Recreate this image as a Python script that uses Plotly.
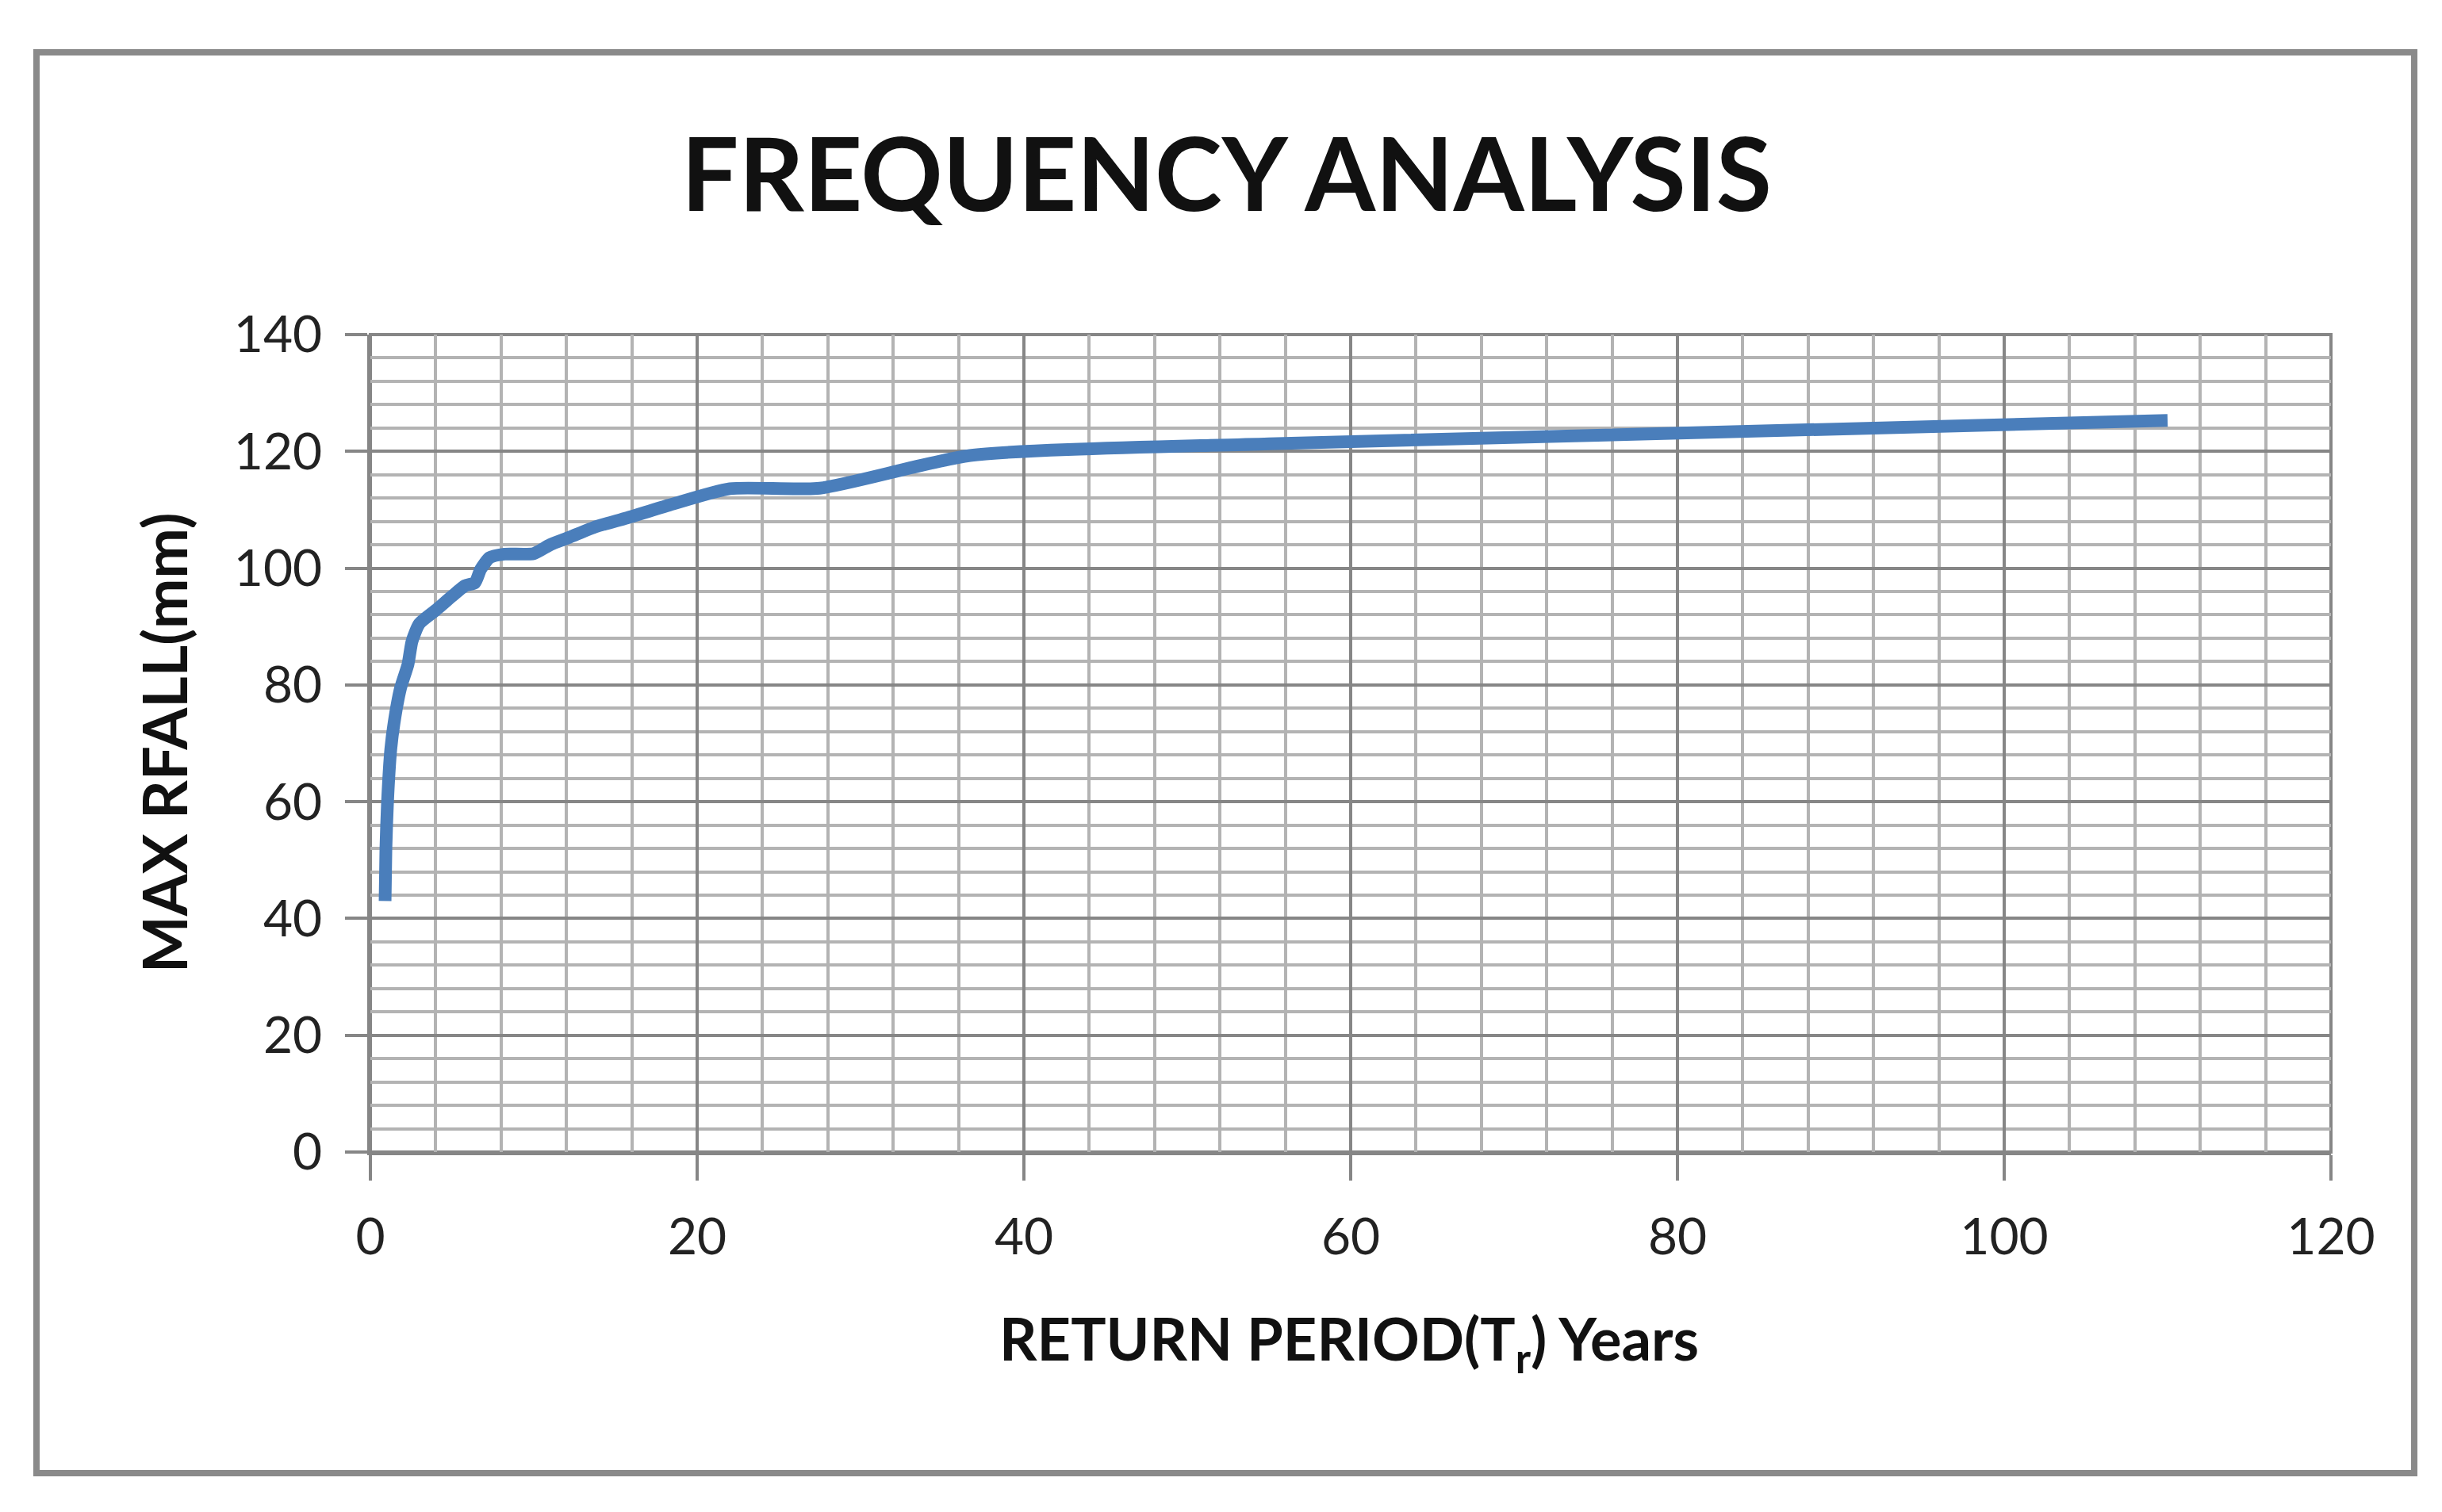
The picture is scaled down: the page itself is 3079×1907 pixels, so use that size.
import plotly.graph_objects as go

# ---- data ----
return_period_years = [0.9, 0.95, 1.05, 1.25, 1.45, 1.85, 2.3, 2.55, 3.0, 4.0, 5.0, 5.8,
                       6.4, 6.75, 7.3, 8.2, 10.0, 11.0, 12.2, 13.8, 15.7, 18.3, 22.0,
                       27.5, 36.7, 55.0, 110.0]
max_rainfall_mm = [43.0, 52.0, 60.0, 69.0, 73.5, 79.5, 83.5, 87.5, 90.5, 92.8, 95.2, 97.0,
                   97.5, 99.8, 101.8, 102.4, 102.5, 104.0, 105.3, 107.1, 108.6, 110.8, 113.6,
                   113.7, 119.3, 121.3, 125.3]
x_ticks = [0, 20, 40, 60, 80, 100, 120]
y_ticks = [0, 20, 40, 60, 80, 100, 120, 140]

W, H = 3079, 1907
L, R, T, B = 467, 2939, 422, 1453          # plot area in pixels
PW, PH = R - L, B - T

def px(x):
    return (x - L) / PW

def py(y):
    return (B - y) / PH

FONT = "Lato"
GRID_MAJ = "#868686"
GRID_MIN = "#b3b3b3"

fig = go.Figure()
fig.add_trace(go.Scatter(
    x=return_period_years, y=max_rainfall_mm, mode="lines",
    line=dict(color="#4a7ebb", width=16, shape="spline", smoothing=0.6),
    showlegend=False, hoverinfo="x+y"))

fig.update_layout(
    width=W, height=H,
    margin=dict(l=L, r=W - R, t=T, b=H - B, pad=0),
    paper_bgcolor="white", plot_bgcolor="white",
    font=dict(family=FONT, color="#222222"),
    xaxis=dict(range=[0, 120], tickvals=x_ticks, ticktext=[str(v) for v in x_ticks],
               showgrid=True, gridcolor=GRID_MAJ, gridwidth=4,
               minor=dict(dtick=4, showgrid=True, gridcolor=GRID_MIN, gridwidth=3.5),
               showline=True, linecolor=GRID_MAJ, linewidth=4,
               ticks="outside", ticklen=32, tickwidth=4, tickcolor=GRID_MAJ,
               tickfont=dict(size=64, family=FONT, color="#222222"),
               ticklabelstandoff=16, zeroline=False, fixedrange=True),
    yaxis=dict(range=[0, 140], tickvals=y_ticks, ticktext=[str(v) for v in y_ticks],
               showgrid=True, gridcolor=GRID_MAJ, gridwidth=4,
               minor=dict(dtick=4, showgrid=True, gridcolor=GRID_MIN, gridwidth=3.5),
               showline=True, linecolor=GRID_MAJ, linewidth=4, mirror=False,
               ticks="outside", ticklen=28, tickwidth=4, tickcolor=GRID_MAJ,
               tickfont=dict(size=64, family=FONT, color="#222222"),
               ticklabelstandoff=16, zeroline=False, fixedrange=True),
)

# outer chart border
fig.add_shape(type="rect", xref="paper", yref="paper",
              x0=px(46), x1=px(3044), y0=py(1858), y1=py(66),
              line=dict(color="#8a8a8a", width=8), fillcolor="rgba(0,0,0,0)", layer="below")
# plot-area frame
fig.add_shape(type="rect", xref="paper", yref="paper", x0=0, x1=1, y0=0, y1=1,
              line=dict(color=GRID_MAJ, width=4), fillcolor="rgba(0,0,0,0)", layer="below")

fig.add_annotation(text="<b>FREQUENCY ANALYSIS</b>", xref="paper", yref="paper",
                   x=px(1546), y=py(216), showarrow=False, xanchor="center", yanchor="middle",
                   font=dict(size=128, family=FONT, color="#111111"))
fig.add_annotation(text="<b>RETURN PERIOD(T<sub>r</sub>) Years</b>", xref="paper", yref="paper",
                   x=px(1701), y=py(1693), showarrow=False, xanchor="center", yanchor="middle",
                   font=dict(size=74, family=FONT, color="#111111"))
fig.add_annotation(text="<b>MAX RFALL(mm)</b>", xref="paper", yref="paper",
                   x=px(206), y=py(937), showarrow=False, xanchor="center", yanchor="middle",
                   textangle=-90, font=dict(size=76, family=FONT, color="#111111"))

fig.write_html("out.html", config={"displayModeBar": False},
               post_script="document.body.style.margin='0';")
